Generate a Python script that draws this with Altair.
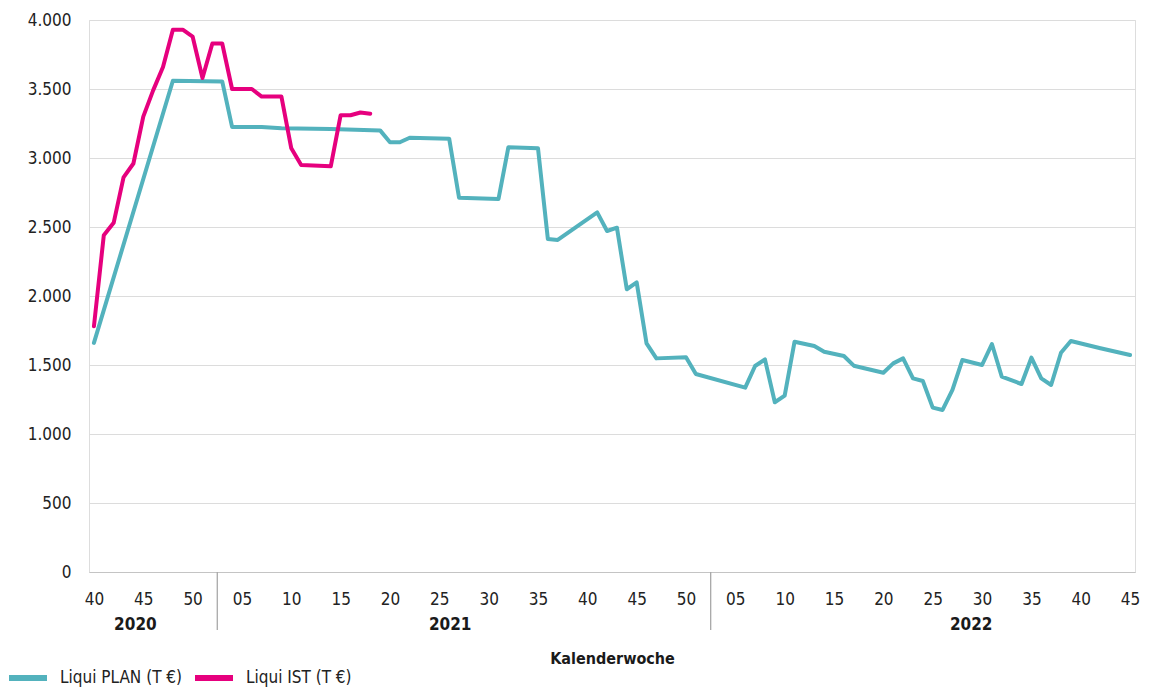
import json
import altair as alt
import pandas as pd

FONT = "Liberation Sans Narrow, DejaVu Sans Condensed, Roboto Condensed, Roboto, sans-serif"
TEAL = "#53b2bd"
PINK = "#e6007e"

# ---- categories (calendar weeks shown on the axis) ----
years = [2020] * 13 + [2021] * 50 + [2022] * 43
weeks = list(range(40, 53)) + list(range(3, 53)) + list(range(3, 46))
kw = [f"{y}-{w:02d}" for y, w in zip(years, weeks)]

# ---- series: Liqui PLAN (T €) ----
plan_kw = ["2020-40", "2020-48", "2021-03", "2021-04", "2021-07", "2021-09", "2021-14",
           "2021-19", "2021-20", "2021-21", "2021-22", "2021-26", "2021-27", "2021-31",
           "2021-32", "2021-35", "2021-36", "2021-37", "2021-41", "2021-42", "2021-43",
           "2021-44", "2021-45", "2021-46", "2021-47", "2021-50", "2021-51", "2022-06",
           "2022-07", "2022-08", "2022-09", "2022-10", "2022-11", "2022-13", "2022-14",
           "2022-16", "2022-17", "2022-20", "2022-21", "2022-22", "2022-23", "2022-24",
           "2022-25", "2022-26", "2022-27", "2022-28", "2022-30", "2022-31", "2022-32",
           "2022-34", "2022-35", "2022-36", "2022-37", "2022-38", "2022-39", "2022-42",
           "2022-45"]
plan_val = [1660, 3560, 3555, 3225, 3225, 3215, 3210,
            3200, 3114, 3114, 3147, 3140, 2712, 2703,
            3078, 3070, 2413, 2406, 2606, 2471, 2495,
            2049, 2099, 1657, 1548, 1556, 1435, 1336,
            1493, 1541, 1230, 1278, 1669, 1638, 1596,
            1565, 1495, 1444, 1512, 1548, 1403, 1384,
            1191, 1174, 1319, 1536, 1500, 1652, 1415,
            1362, 1553, 1403, 1355, 1589, 1674, 1621,
            1572]

# ---- series: Liqui IST (T €) ----
ist_kw = ["2020-40", "2020-41", "2020-42", "2020-43", "2020-44", "2020-45", "2020-46",
          "2020-47", "2020-48", "2020-49", "2020-50", "2020-51", "2020-52", "2021-03",
          "2021-04", "2021-06", "2021-07", "2021-09", "2021-10", "2021-11", "2021-14",
          "2021-15", "2021-16", "2021-17", "2021-18"]
ist_val = [1780, 2440, 2530, 2860, 2960, 3300, 3490,
           3660, 3930, 3930, 3880, 3580, 3830, 3830,
           3500, 3500, 3445, 3445, 3070, 2950, 2940,
           3310, 3310, 3330, 3320]

series_names = ["Liqui PLAN (T €)", "Liqui IST (T €)"]
y_ticks = [0, 500, 1000, 1500, 2000, 2500, 3000, 3500, 4000]

# year group labels and their placement (layout)
year_labels = ["2020", "2021", "2022"]
year_label_pos = [4.2, 36.1, 88.9]

idx = {k: i for i, k in enumerate(kw)}
n = len(kw)
tick_idx = list(range(0, n, 5))
tick_labels = [f"{weeks[i]:02d}" for i in tick_idx]
separators = [i - 0.5 for i in range(1, n) if years[i] != years[i - 1]]

plan_df = pd.DataFrame({"i": [idx[k] for k in plan_kw], "v": plan_val, "series": series_names[0]})
ist_df = pd.DataFrame({"i": [idx[k] for k in ist_kw], "v": ist_val, "series": series_names[1]})
sep_df = pd.DataFrame({"s": separators})
year_df = pd.DataFrame({"pos": year_label_pos, "label": year_labels})

W, H = 1046, 552
FS = 17

x_scale = alt.Scale(domain=[-0.5, n - 0.5], nice=False, zero=False)
y_scale = alt.Scale(domain=[0, 4000], nice=False)
color_scale = alt.Scale(domain=series_names, range=[TEAL, PINK])

x_axis = alt.Axis(
    values=tick_idx,
    labelExpr=json.dumps(tick_labels) + "[round(datum.value / 5)]",
    title="Kalenderwoche",
    titleFont=FONT, titleFontSize=16, titleFontWeight="bold", titleColor="#1a1a1a",
    titlePadding=43,
    labelFont=FONT, labelFontSize=FS, labelColor="#222222", labelPadding=19,
    ticks=False, tickSize=0, grid=False,
    domain=True, domainColor="#c4c4c4", domainWidth=1.2,
    labelFlush=False, labelOverlap=False,
)
y_axis = alt.Axis(
    values=y_ticks,
    labelExpr="replace(format(datum.value, ','), ',', '.')",
    title=None,
    labelFont=FONT, labelFontSize=FS, labelColor="#222222", labelPadding=18,
    ticks=False, tickSize=0, domain=False,
    grid=True, gridColor="#dcdcdc", gridWidth=1.2,
)
legend = alt.Legend(
    orient="none", legendX=-83, legendY=636, direction="horizontal", title=None,
    symbolType="stroke", symbolStrokeWidth=6, symbolSize=1444,
    labelFont=FONT, labelFontSize=FS, labelColor="#222222", labelOffset=10,
    columnPadding=0, padding=0,
)

plan_line = alt.Chart(plan_df).mark_line(strokeWidth=4, strokeJoin="round", strokeCap="round").encode(
    x=alt.X("i:Q", scale=x_scale, axis=x_axis),
    y=alt.Y("v:Q", scale=y_scale, axis=y_axis),
    color=alt.Color("series:N", scale=color_scale, legend=legend),
    order="i:Q",
)
ist_line = alt.Chart(ist_df).mark_line(strokeWidth=4, strokeJoin="round", strokeCap="round").encode(
    x=alt.X("i:Q", scale=x_scale),
    y=alt.Y("v:Q", scale=y_scale),
    color=alt.Color("series:N", scale=color_scale, legend=legend),
    order="i:Q",
)
sep_rules = alt.Chart(sep_df).mark_rule(color="#a8a8a8", strokeWidth=1.3).encode(
    x=alt.X("s:Q", scale=x_scale),
    y=alt.value(H),
    y2=alt.value(H + 58),
)
year_text = alt.Chart(year_df).mark_text(
    font=FONT, fontSize=FS, fontWeight="bold", color="#1a1a1a", baseline="middle", align="center"
).encode(
    x=alt.X("pos:Q", scale=x_scale),
    y=alt.value(H + 53),
    text="label:N",
)

chart = alt.layer(plan_line, ist_line, sep_rules, year_text).properties(
    width=W, height=H,
    autosize=alt.AutoSizeParams(type="none"),
    padding={"left": 81, "top": 12, "right": 17, "bottom": 120},
).configure_view(stroke=None).configure(background="white")

chart.save("out.html", embed_options={"renderer": "svg", "actions": False})
